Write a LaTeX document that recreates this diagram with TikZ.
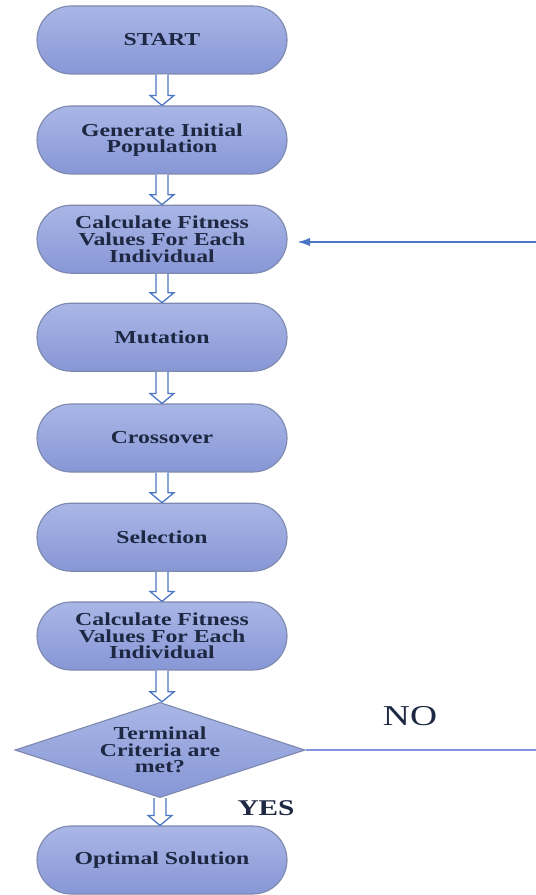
\documentclass[tikz,border=0pt]{standalone}
\usepackage{fontspec}
\setmainfont{Liberation Serif}
\newfontfamily\boxfont{Liberation Serif}[FakeStretch=1.3]
\usepackage{tikz}
\usetikzlibrary{shapes.geometric, arrows.meta, positioning, calc}
\definecolor{boxtop}{HTML}{A9B6E6}
\definecolor{boxbottom}{HTML}{8797D6}
\definecolor{boxline}{HTML}{7E89AE}
\definecolor{textnavy}{HTML}{1E2843}
\definecolor{arrowblue}{HTML}{4A74C4}
\definecolor{noline}{HTML}{8494E0}
\newcommand{\flowarrow}[2]{%
  \draw[hollow] let \p1=(#1.south), \p2=(#2.north) in
    (\x1-0.15cm,\y1) -- (\x1-0.15cm,\y2+0.25cm) -- (\x1-0.3cm,\y2+0.25cm) -- (\x1,\y2)
    -- (\x1+0.3cm,\y2+0.25cm) -- (\x1+0.15cm,\y2+0.25cm) -- (\x1+0.15cm,\y1);}

\begin{document}
\begin{tikzpicture}[
  procbox/.style={rectangle, rounded corners=0.85cm, top color=boxtop, bottom color=boxbottom,
    draw=boxline, line width=0.8pt, minimum width=6.25cm, minimum height=1.7cm,
    align=center, text=textnavy, font=\boxfont\bfseries\fontsize{13}{11.9}\selectfont},
  decbox/.style={diamond, aspect=3, inner sep=0pt, top color=boxtop, bottom color=boxbottom,
    draw=boxline, line width=0.8pt, minimum width=7.25cm, minimum height=2.38cm,
    align=center, text=textnavy, font=\boxfont\bfseries\fontsize{13}{11.9}\selectfont},
  hollow/.style={draw=arrowblue, fill=white, line width=0.9pt, line join=miter},
  feedback/.style={-{Latex[length=9pt, width=6pt]}, arrowblue, line width=0.9pt},
  answer/.style={text=textnavy, font=\boxfont}
]
  \useasboundingbox (0,0) rectangle (13.4,-22.375);

  % main flow
  \node[procbox] (start) at (4.05, -1.0) {START};
  \node[procbox] (gen) at (4.05, -3.5) {Generate Initial\\Population};
  \node[procbox] (fit1) at (4.05, -5.98) {Calculate Fitness\\Values For Each\\Individual};
  \node[procbox] (mut) at (4.05, -8.43) {Mutation};
  \node[procbox] (cross) at (4.05, -10.95) {Crossover};
  \node[procbox] (sel) at (4.05, -13.43) {Selection};
  \node[procbox] (fit2) at (4.05, -15.9) {Calculate Fitness\\Values For Each\\Individual};
  \node[decbox] (term) at (4.0, -18.75) {Terminal\\Criteria are\\met?};
  \node[procbox] (opt) at (4.05, -21.5) {Optimal Solution};

  \flowarrow{start}{gen}
  \flowarrow{gen}{fit1}
  \flowarrow{fit1}{mut}
  \flowarrow{mut}{cross}
  \flowarrow{cross}{sel}
  \flowarrow{sel}{fit2}
  \flowarrow{fit2}{term}
  \flowarrow{term}{opt}

  % loop back
  \coordinate (noend) at (13.4, -18.75);
  \coordinate (backstart) at (13.4, -6.05);
  \draw[noline, line width=0.9pt] (term.east) -- (noend);
  \draw[feedback, shorten >=0.25cm] (backstart) -- (backstart -| fit1.east);

  \node[answer, font=\boxfont\fontsize{20.5}{21}\selectfont] (no) at (10.25, -17.9) {NO};
  \node[answer, font=\boxfont\bfseries\fontsize{16}{16}\selectfont] (yes) at (6.65, -20.2) {YES};
\end{tikzpicture}
\end{document}
